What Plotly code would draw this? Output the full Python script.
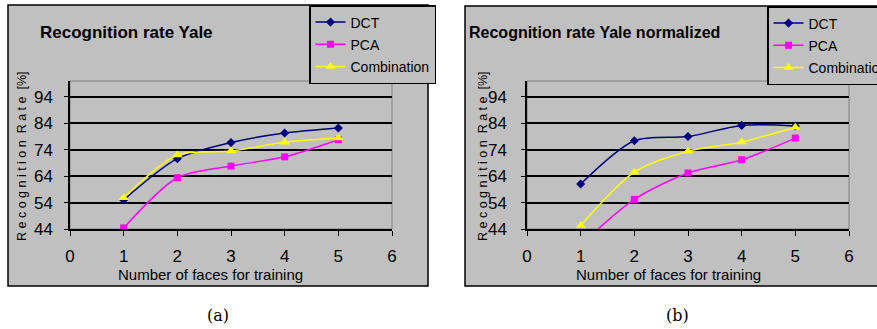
import plotly.graph_objects as go

x_faces = [1, 2, 3, 4, 5]
x_ticks = [0, 1, 2, 3, 4, 5, 6]
y_ticks = [44, 54, 64, 74, 84, 94]

# (a) Recognition rate Yale
dct_a = [55.0, 70.6, 76.7, 80.3, 82.2]
pca_a = [44.4, 63.4, 67.8, 71.3, 77.8]
comb_a = [55.8, 72.0, 73.5, 76.8, 78.4]

# (b) Recognition rate Yale normalized
dct_b = [61.0, 77.4, 79.0, 83.2, 83.0]
pca_b = [38.0, 55.2, 65.2, 70.2, 78.4]
comb_b = [45.3, 65.5, 73.4, 76.9, 82.5]

series_names = ["DCT", "PCA", "Combination"]
colors = ["#000080", "#FF00FF", "#FFFF00"]
symbols = ["diamond", "square", "triangle-up"]
msizes = [7, 7, 9]

W, H = 877, 329
def px(x): return x / W
def py(y): return 1 - y / H

FONT = "Liberation Sans, Arial"
GRAY = "#C0C0C0"

fig = go.Figure()

for data, xa, ya, lg in [((dct_a, pca_a, comb_a), "x", "y", "legend"),
                         ((dct_b, pca_b, comb_b), "x2", "y2", "legend2")]:
    for name, vals, c, s, ms in zip(series_names, data, colors, symbols, msizes):
        fig.add_trace(go.Scatter(
            x=x_faces, y=vals, name=name, mode="lines+markers",
            line=dict(color=c, width=1.5, shape="spline", smoothing=0.8),
            marker=dict(symbol=s, size=ms, color=c),
            xaxis=xa, yaxis=ya, legend=lg, legendgroup=lg + name,
        ))

# panel backgrounds
for x0, x1, y0, y1 in [(8, 428, 5, 286), (465, 890, 6, 286)]:
    fig.add_shape(type="rect", xref="paper", yref="paper",
                  x0=px(x0), x1=px(x1), y0=py(y1), y1=py(y0),
                  fillcolor=GRAY, line=dict(color="#000000", width=1.5), layer="below")

axis_common = dict(showline=True, linecolor="#000000", linewidth=1.5,
                   ticks="outside", tickcolor="#000000", zeroline=False,
                   tickfont=dict(family=FONT, size=17, color="#000000"))

legend_common = dict(xanchor="left", yanchor="top",
                     bgcolor=GRAY, bordercolor="#000000", borderwidth=1.5,
                     font=dict(family=FONT, size=14, color="#000000"),
                     tracegroupgap=1, itemwidth=30)

fig.update_layout(
    width=W, height=H, margin=dict(l=0, r=0, t=0, b=0, autoexpand=False),
    paper_bgcolor="#FFFFFF", plot_bgcolor="rgba(0,0,0,0)",
    showlegend=True,
    xaxis=dict(domain=[px(70), px(392)], range=[0, 6], tickvals=x_ticks,
               ticklen=5, ticklabelstandoff=6, showgrid=False, anchor="y", **axis_common),
    yaxis=dict(domain=[py(229), py(81)], range=[44, 100], tickvals=y_ticks,
               ticklen=4, ticklabelstandoff=8, showgrid=True, gridcolor="#000000",
               gridwidth=1.5, anchor="x", **axis_common),
    xaxis2=dict(domain=[px(527), px(849)], range=[0, 6], tickvals=x_ticks,
                ticklen=5, ticklabelstandoff=6, showgrid=False, anchor="y2", **axis_common),
    yaxis2=dict(domain=[py(229), py(81)], range=[44, 100], tickvals=y_ticks,
                ticklen=4, ticklabelstandoff=11, showgrid=True, gridcolor="#000000",
                gridwidth=1.5, anchor="x2", **axis_common),
    legend=dict(x=px(309), y=py(5), **legend_common),
    legend2=dict(x=px(767), y=py(6), **legend_common),
)

# plot-area right/top borders (gray)
for xr, yr in [("x domain", "y domain"), ("x2 domain", "y2 domain")]:
    fig.add_shape(type="rect", xref=xr, yref=yr, x0=0, x1=1, y0=0, y1=1,
                  line=dict(color="#808080", width=1), fillcolor="rgba(0,0,0,0)", layer="below")

ann = []
# titles
ann.append(dict(text="<b>Recognition rate Yale</b>", x=px(38), y=py(32), xanchor="left", yanchor="middle",
                font=dict(family=FONT, size=17, color="#000000")))
ann.append(dict(text="<b>Recognition rate Yale normalized</b>", x=px(467), y=py(32), xanchor="left", yanchor="middle",
                font=dict(family=FONT, size=16, color="#000000")))
# axis titles
for cx in [210, 668]:
    ann.append(dict(text="Number of faces for training", x=px(cx), y=py(274), xanchor="center", yanchor="middle",
                    font=dict(family=FONT, size=15, color="#000000")))
for cx in [22, 483]:
    ann.append(dict(text="R e c o g n i t i o n  R a t e  [%]", x=px(cx), y=py(156), xanchor="center", yanchor="middle",
                    textangle=-90, font=dict(family=FONT, size=12.5, color="#000000")))
# captions
for cx, t in [(218, "(a)"), (677, "(b)")]:
    ann.append(dict(text=t, x=px(cx), y=py(315), xanchor="center", yanchor="middle",
                    font=dict(family="DejaVu Serif, Liberation Serif", size=16, color="#000000")))
for a in ann:
    a.update(xref="paper", yref="paper", showarrow=False)
fig.update_layout(annotations=ann)

fig.write_html(
    "out.html",
    config={"displayModeBar": False},
    post_script="document.body.style.margin='0';document.body.style.overflow='hidden';",
)
